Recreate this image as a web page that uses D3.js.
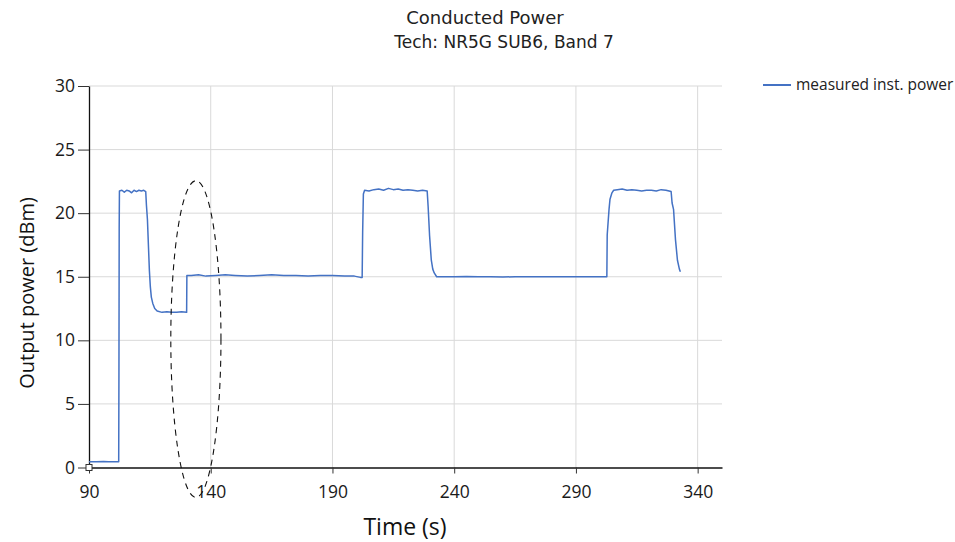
<!DOCTYPE html>
<html>
<head>
<meta charset="utf-8">
<script src="https://cdn.jsdelivr.net/npm/d3@7"></script>
<style>
  body { margin: 0; background: #fff; }
</style>
</head>
<body>
<svg id="chart" width="955" height="542"></svg>
<script>
// time (s) and measured instantaneous power (dBm)
var timeSec = [
  90, 93, 96, 98, 100, 102.2,
  102.3, 102.4, 102.5, 103.5, 104.5, 105.5, 106.5, 107.5, 108.5, 109.5, 110.5, 111.5, 112.5, 113.3,
  113.6, 114.0, 114.4, 114.8, 115.2, 115.6, 116.2, 117.0, 118.0, 120, 122, 124, 126, 128, 130.1,
  130.2, 132, 135, 138, 142, 146, 150, 155, 160, 165, 170, 175, 180, 185, 190, 195, 199, 201.5, 202.2,
  202.4, 202.7, 203.2, 205, 207, 209, 211, 213, 215, 217, 219, 221, 223, 225, 227, 228.9,
  229.3, 229.9, 230.6, 231.2, 231.8, 232.8, 236, 240, 245, 250, 255, 260, 265, 270, 275, 280, 285, 290, 295, 300, 302.7,
  302.85, 303.6, 304.0, 304.8, 305.5, 307, 309, 311, 313, 315, 317, 319, 321, 323, 325, 327, 329.1,
  329.5, 330.1, 330.9, 331.7, 332.5, 332.9
];
var powerDbm = [
  0.45, 0.45, 0.47, 0.45, 0.46, 0.45,
  7.5, 18.8, 21.75, 21.8, 21.65, 21.8, 21.75, 21.6, 21.8, 21.7, 21.8, 21.75, 21.8, 21.7,
  20.6, 19.5, 17.5, 15.5, 14.2, 13.4, 12.9, 12.5, 12.3, 12.2, 12.25, 12.2, 12.2, 12.25, 12.2,
  15.1, 15.1, 15.15, 15.05, 15.1, 15.15, 15.1, 15.05, 15.1, 15.15, 15.1, 15.1, 15.05, 15.1, 15.1, 15.05, 15.05, 14.95, 14.95,
  18.5, 21.5, 21.8, 21.75, 21.85, 21.9, 21.8, 21.95, 21.85, 21.9, 21.8, 21.85, 21.8, 21.75, 21.8, 21.75,
  20.5, 18.2, 16.3, 15.6, 15.3, 15.0, 15.0, 15.0, 15.02, 15.0, 15.0, 14.98, 15.0, 15.0, 15.0, 15.0, 15.0, 15.0, 15.0, 15.0, 15.0,
  18.3, 20.3, 21.1, 21.6, 21.8, 21.85, 21.9, 21.8, 21.85, 21.8, 21.75, 21.8, 21.8, 21.75, 21.85, 21.8, 21.7,
  20.8, 20.3, 17.9, 16.3, 15.6, 15.4
];
var xTicks = [90, 140, 190, 240, 290, 340];
var yTicks = [0, 5, 10, 15, 20, 25, 30];
// dashed ellipse marking the transition (centre t, centre dBm, half-width s, half-height dBm)
var ellipseMark = [133.9, 10.1, 10.3, 12.45];

function drawChart () {
  var svg = d3.select("#chart"),
      pLeft = 89, pRight = 722, pTop = 86, pBottom = 467.5;

  var x = d3.scaleLinear().domain([90, 350]).range([pLeft, pRight]);
  var y = d3.scaleLinear().domain([0, 30]).range([pBottom, pTop]);

  var series = timeSec.map(function(t, i) { return { t: t, v: powerDbm[i] }; });

  // gridlines
  svg.append("g").selectAll("line")
    .data(yTicks.filter(function(d) { return d > 0; }))
    .enter().append("line")
      .attr("x1", pLeft).attr("x2", pRight)
      .attr("y1", function(d) { return y(d); }).attr("y2", function(d) { return y(d); })
      .attr("stroke", "#d9d9d9").attr("stroke-width", 1);
  svg.append("g").selectAll("line")
    .data(xTicks.filter(function(d) { return d > 90; }))
    .enter().append("line")
      .attr("x1", function(d) { return x(d); }).attr("x2", function(d) { return x(d); })
      .attr("y1", pTop).attr("y2", pBottom)
      .attr("stroke", "#d9d9d9").attr("stroke-width", 1);

  // axes
  var xAxis = svg.append("g")
    .attr("transform", "translate(0," + pBottom + ")")
    .call(d3.axisBottom(x).tickValues(xTicks).tickSize(6).tickPadding(12).tickSizeOuter(0));
  var yAxis = svg.append("g")
    .attr("transform", "translate(" + pLeft + ",0)")
    .call(d3.axisLeft(y).tickValues(yTicks).tickSize(11).tickPadding(3).tickSizeOuter(0));

  [xAxis, yAxis].forEach(function(a) {
    a.select(".domain").attr("stroke", "#111").attr("stroke-width", 1.3);
    a.selectAll(".tick line").attr("stroke", "#333");
    a.selectAll("text")
      .style("font-family", "'Open Sans', sans-serif")
      .style("font-size", "17.5px")
      .attr("fill", "#1a1a1a");
  });

  // data line
  var line = d3.line()
    .x(function(d) { return x(d.t); })
    .y(function(d) { return y(d.v); });

  svg.append("path")
    .datum(series)
    .attr("fill", "none")
    .attr("stroke", "#4472c4")
    .attr("stroke-width", 1.5)
    .attr("stroke-linejoin", "round")
    .attr("d", line);

  // first point marker
  svg.append("rect")
    .attr("x", x(series[0].t) - 3).attr("y", y(0) - 3)
    .attr("width", 6).attr("height", 6)
    .attr("fill", "#fff").attr("stroke", "#333").attr("stroke-width", 1);

  // annotation ellipse
  svg.append("ellipse")
    .attr("cx", x(ellipseMark[0])).attr("cy", y(ellipseMark[1]))
    .attr("rx", x(ellipseMark[0] + ellipseMark[2]) - x(ellipseMark[0]))
    .attr("ry", y(ellipseMark[1] - ellipseMark[3]) - y(ellipseMark[1]))
    .attr("fill", "none").attr("stroke", "#111")
    .attr("stroke-width", 1.1).attr("stroke-dasharray", "6,5");

  // titles
  svg.append("text")
    .attr("x", 485).attr("y", 24).attr("text-anchor", "middle")
    .style("font-family", "'DejaVu Sans', sans-serif").style("font-size", "18px")
    .attr("fill", "#222")
    .text("Conducted Power");
  svg.append("text")
    .attr("x", 504).attr("y", 48).attr("text-anchor", "middle")
    .style("font-family", "'DejaVu Sans', sans-serif").style("font-size", "17px")
    .attr("fill", "#222")
    .text("Tech: NR5G SUB6, Band 7");

  svg.append("text")
    .attr("x", 405).attr("y", 535).attr("text-anchor", "middle")
    .style("font-family", "'Open Sans', sans-serif").style("font-size", "23px")
    .attr("fill", "#111")
    .text("Time (s)");
  svg.append("text")
    .attr("transform", "translate(34,293) rotate(-90)").attr("text-anchor", "middle")
    .style("font-family", "'Open Sans', sans-serif").style("font-size", "20px")
    .attr("fill", "#111")
    .text("Output power (dBm)");

  // legend
  var legend = svg.append("g").attr("transform", "translate(763,85)");
  legend.append("line")
    .attr("x1", 0).attr("x2", 28).attr("y1", 0).attr("y2", 0)
    .attr("stroke", "#4472c4").attr("stroke-width", 2);
  legend.append("text")
    .attr("x", 33).attr("y", 5)
    .style("font-family", "'Open Sans', sans-serif").style("font-size", "15.5px")
    .attr("fill", "#222")
    .text("measured inst. power");
}

drawChart();
</script>
</body>
</html>
